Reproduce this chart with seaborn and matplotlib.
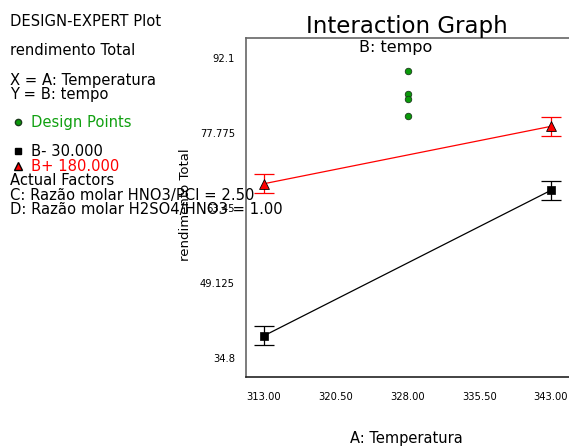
import matplotlib
matplotlib.use("Agg")
import matplotlib.pyplot as plt
from matplotlib.lines import Line2D
import seaborn as sns
import pandas as pd

# ---- data ----
temperatura = [313.0, 343.0]
b_minus = [39.0, 66.84]          # B- 30.000
b_plus = [68.1, 79.08]           # B+ 180.000
err_minus = [1.83, 1.85]
err_plus = [1.83, 1.85]
design_x = [328.0, 328.0, 328.0, 328.0]
design_y = [89.67, 85.27, 84.31, 81.12]
xticks = [313.00, 320.50, 328.00, 335.50, 343.00]
xtick_labels = ["313.00", "320.50", "328.00", "335.50", "343.00"]
yticks = [34.8, 49.125, 63.45, 77.775, 92.1]
ytick_labels = ["34.8", "49.125", "63.45", "77.775", "92.1"]

sns.set_style("white")
plt.rcParams["font.family"] = ["DejaVu Sans"]
plt.rcParams["text.color"] = "black"
plt.rcParams["xtick.color"] = "black"
plt.rcParams["ytick.color"] = "black"
plt.rcParams["axes.labelcolor"] = "black"

W, H = 569, 448
fig = plt.figure(figsize=(W / 100, H / 100), dpi=100)

def fx(px):
    return px / W

def fy(py):
    return 1 - py / H

# axes: left 246 px, top 38.3 px, bottom 376.7 px, extends past right edge
ax = fig.add_axes([fx(246), fy(376.7), fx(600 - 246), (376.7 - 38.3) / H])
x_per_px = 30 / (551 - 264)
ax.set_xlim(313 - 18 * x_per_px, 313 + (600 - 264) * x_per_px)
y_per_px = (92.1 - 34.8) / (357.7 - 58.3)
ax.set_ylim(34.8 - (376.7 - 357.7) * y_per_px, 92.1 + (58.3 - 38.3) * y_per_px)

df = pd.DataFrame({
    "A": temperatura * 2,
    "y": b_minus + b_plus,
    "B": ["B-"] * 2 + ["B+"] * 2,
})
sns.lineplot(data=df, x="A", y="y", hue="B", palette={"B-": "black", "B+": "red"},
             linewidth=0.9, legend=False, ax=ax)

ax.errorbar(temperatura, b_minus, yerr=err_minus, fmt="none", ecolor="black",
            elinewidth=0.9, capsize=7, capthick=0.9, zorder=3)
ax.errorbar(temperatura, b_plus, yerr=err_plus, fmt="none", ecolor="red",
            elinewidth=0.9, capsize=7, capthick=0.9, zorder=3)

sns.scatterplot(x=temperatura, y=b_minus, marker="s", color="black", s=30,
                edgecolor="black", linewidth=0.5, ax=ax, zorder=4)
sns.scatterplot(x=temperatura, y=b_plus, marker="^", color="red", s=50,
                edgecolor="black", linewidth=0.6, ax=ax, zorder=4)
sns.scatterplot(x=design_x, y=design_y, marker="o", color="#0a9a0a", s=22,
                edgecolor="#1a3a1a", linewidth=0.6, ax=ax, zorder=4)

ax.set_xticks(xticks)
ax.set_xticklabels(xtick_labels, fontsize=7.2)
ax.set_yticks(yticks)
ax.set_yticklabels(ytick_labels, fontsize=7.2)
ax.tick_params(axis="x", direction="out", length=7, width=0.8, color="#333333", pad=4)
ax.tick_params(axis="y", direction="out", length=6, width=0.8, color="#555555", pad=2)
ax.set_xlabel("")
ax.set_ylabel("")
for side in ["left", "top"]:
    ax.spines[side].set_color("#666666")
    ax.spines[side].set_linewidth(1.2)
ax.spines["bottom"].set_color("#222222")
ax.spines["bottom"].set_linewidth(1.2)
ax.spines["right"].set_visible(False)
ax.grid(False)

# titles and axis labels
fig.text(fx(407), fy(33), "Interaction Graph", fontsize=16.5, ha="center", va="baseline")
fig.text(fx(396), fy(52), "B: tempo", fontsize=11.5, ha="center", va="baseline")
fig.text(fx(186), fy(205), "rendimento Total", fontsize=9.5, rotation=90,
         ha="center", va="center")
fig.text(fx(406), fy(443), "A: Temperatura", fontsize=10.5, ha="center", va="baseline")

# left information block
fs = 10.6
fig.text(fx(10), fy(26), "DESIGN-EXPERT Plot", fontsize=fs, va="baseline")
fig.text(fx(10), fy(55), "rendimento Total", fontsize=fs, va="baseline")
fig.text(fx(10), fy(85), "X = A: Temperatura", fontsize=fs, va="baseline")
fig.text(fx(10), fy(99), "Y = B: tempo", fontsize=fs, va="baseline")
fig.text(fx(31), fy(127), "Design Points", fontsize=fs, va="baseline", color="#10a010")
fig.text(fx(31), fy(156), "B- 30.000", fontsize=fs, va="baseline")
fig.text(fx(31), fy(171), "B+ 180.000", fontsize=fs, va="baseline", color="red")
fig.text(fx(10), fy(185), "Actual Factors", fontsize=fs, va="baseline")
fig.text(fx(10), fy(200), "C: Razão molar HNO3/PCI = 2.50", fontsize=fs, va="baseline",
         zorder=10)
fig.text(fx(10), fy(214), "D: Razão molar H2SO4/HNO3 = 1.00", fontsize=fs, va="baseline",
         zorder=10)

fig.add_artist(Line2D([fx(18)], [fy(122.5)], marker="o", color="#0a9a0a",
                      markeredgecolor="#1a3a1a", markersize=4.5, transform=fig.transFigure))
fig.add_artist(Line2D([fx(18)], [fy(151.5)], marker="s", color="black",
                      markersize=4.5, transform=fig.transFigure))
fig.add_artist(Line2D([fx(18)], [fy(166)], marker="^", color="red",
                      markeredgecolor="black", markersize=5.5, transform=fig.transFigure))

fig.savefig("out.png", dpi=100)
